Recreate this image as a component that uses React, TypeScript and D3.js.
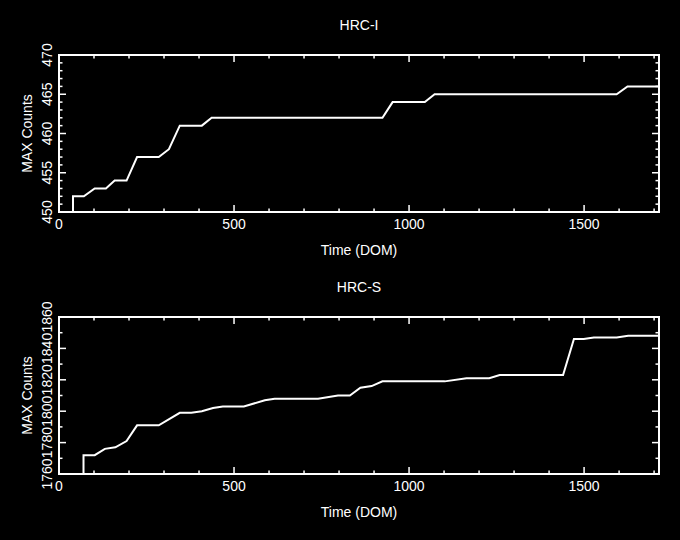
import React from 'react';
import * as d3 from 'd3';

// HRC-I max counts vs day of mission
const hrciTime = [40, 40, 71, 102, 134, 159, 193, 223, 285, 314, 345, 408, 436, 924, 953, 1045, 1073, 1593, 1624, 1714];
const hrciMax = [0, 452, 452, 453, 453, 454, 454, 457, 457, 458, 461, 461, 462, 462, 464, 464, 465, 465, 466, 466];

// HRC-S max counts vs day of mission
const hrcsTime = [70, 70, 102, 131, 161, 193, 223, 285, 345, 378, 408, 440, 468, 528, 588, 616, 740, 797, 831, 861, 893, 924, 1102, 1164, 1229, 1259, 1440, 1471, 1499, 1528, 1593, 1626, 1714];
const hrcsMax = [0, 1772, 1772, 1776, 1777, 1781, 1791, 1791, 1799, 1799, 1800, 1802, 1803, 1803, 1807, 1808, 1808, 1810, 1810, 1815, 1816, 1819, 1819, 1821, 1821, 1823, 1823, 1846, 1846, 1847, 1847, 1848, 1848];

const xTickLabels = [0, 500, 1000, 1500];
const hrciYTicks = [450, 455, 460, 465, 470];
const hrcsYTicks = [1760, 1780, 1800, 1820, 1840, 1860];

const W = 680;
const H = 540;
const left = 59;
const right = 659;
const font = '"Liberation Sans", Arial, Helvetica, sans-serif';

type PanelProps = {
  id: string;
  title: string;
  times: number[];
  values: number[];
  yDomain: [number, number];
  yMajor: number[];
  yMinorStep: number;
  top: number;
  bottom: number;
};

function Panel({ id, title, times, values, yDomain, yMajor, yMinorStep, top, bottom }: PanelProps) {
  let x = d3.scaleLinear().domain([0, 1714]).range([left, right]);
  let y = d3.scaleLinear().domain(yDomain).range([bottom, top]);

  let data = times.map((t, i) => ({ t, v: values[i] }));
  let line = d3
    .line<{ t: number; v: number }>()
    .x(d => x(d.t))
    .y(d => y(d.v));

  let xMinor = d3.range(0, 1701, 100);
  let yMinor = d3.range(yDomain[0], yDomain[1] + 0.001, yMinorStep);
  let major = 7;
  let minor = 3.5;

  let midY = (top + bottom) / 2;
  let midX = (left + right) / 2;

  return (
    <g>
      <defs>
        <clipPath id={id}>
          <rect x={left} y={top} width={right - left} height={bottom - top} />
        </clipPath>
      </defs>

      {/* ticks, both sides, pointing inward */}
      <g stroke="white" strokeWidth={1.5}>
        {xMinor.map(t => {
          let len = xTickLabels.includes(t) ? major : minor;
          return (
            <g key={'x' + t}>
              <line x1={x(t)} x2={x(t)} y1={bottom} y2={bottom - len} />
              <line x1={x(t)} x2={x(t)} y1={top} y2={top + len} />
            </g>
          );
        })}
        {yMinor.map(v => {
          let len = yMajor.includes(Math.round(v)) ? major : minor;
          return (
            <g key={'y' + v}>
              <line x1={left} x2={left + len} y1={y(v)} y2={y(v)} />
              <line x1={right} x2={right - len} y1={y(v)} y2={y(v)} />
            </g>
          );
        })}
      </g>

      <path
        d={line(data) || ''}
        fill="none"
        stroke="white"
        strokeWidth={2}
        clipPath={`url(#${id})`}
      />

      <rect x={left} y={top} width={right - left} height={bottom - top} fill="none" stroke="white" strokeWidth={2} />

      <g fill="white" fontFamily={font} fontSize={14}>
        {xTickLabels.map(t => (
          <text key={'xl' + t} x={x(t)} y={bottom + 17} textAnchor="middle">
            {t}
          </text>
        ))}
        {yMajor.map(v => (
          <text key={'yl' + v} transform={`translate(52,${y(v)}) rotate(-90)`} textAnchor="middle">
            {v}
          </text>
        ))}
        <text x={midX} y={top - 25} textAnchor="middle">
          {title}
        </text>
        <text x={midX} y={bottom + 43} textAnchor="middle">
          Time (DOM)
        </text>
        <text transform={`translate(32,${midY}) rotate(-90)`} textAnchor="middle">
          MAX Counts
        </text>
      </g>
    </g>
  );
}

export default function App() {
  return (
    <svg
      width={W}
      height={H}
      style={{ position: 'absolute', left: 0, top: 0, display: 'block', background: 'black' }}
    >
      <rect x={0} y={0} width={W} height={H} fill="black" />
      <Panel
        id="clip-hrci"
        title="HRC-I"
        times={hrciTime}
        values={hrciMax}
        yDomain={[450, 470]}
        yMajor={hrciYTicks}
        yMinorStep={1}
        top={55}
        bottom={212}
      />
      <Panel
        id="clip-hrcs"
        title="HRC-S"
        times={hrcsTime}
        values={hrcsMax}
        yDomain={[1760, 1860]}
        yMajor={hrcsYTicks}
        yMinorStep={10}
        top={317}
        bottom={474}
      />
    </svg>
  );
}
